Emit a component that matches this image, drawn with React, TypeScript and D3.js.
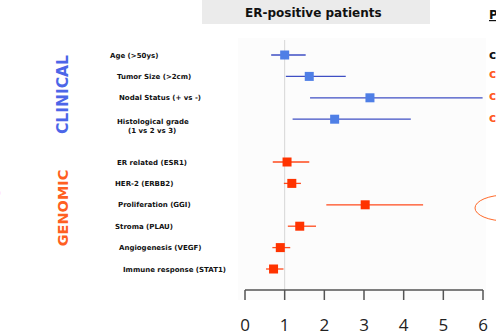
import React from 'react';
import * as d3 from 'd3';

// forest plot rows (hazard ratio with 95% CI)
const labels = [
  'Age (>50ys)',
  'Tumor Size (>2cm)',
  'Nodal Status (+ vs -)',
  'Histological grade|(1 vs 2 vs 3)',
  '',
  'ER related (ESR1)',
  'HER-2 (ERBB2)',
  'Proliferation (GGI)',
  'Stroma (PLAU)',
  'Angiogenesis (VEGF)',
  'Immune response (STAT1)',
];
const groups = ['clinical', 'clinical', 'clinical', 'clinical', '', 'genomic', 'genomic', 'genomic', 'genomic', 'genomic', 'genomic'];
const hr = [1.0, 1.62, 3.15, 2.26, null, 1.06, 1.18, 3.03, 1.38, 0.89, 0.72];
const lower = [0.66, 1.03, 1.64, 1.2, null, 0.7, 0.98, 2.05, 1.08, 0.69, 0.53];
const upper = [1.53, 2.54, 5.99, 4.18, null, 1.62, 1.41, 4.49, 1.79, 1.14, 0.97];
const ticks = [0, 1, 2, 3, 4, 5, 6];

// layout only: left edge of each label
const labelX = [110, 117, 119, 117, 0, 117, 115, 118, 115, 119, 123];

const W = 496, H = 336;
const lineCol = { clinical: '#3f4fc4', genomic: '#ff4a1c' };
const boxCol = { clinical: '#4f7fe6', genomic: '#ff3300' };
const labelFont = '"DejaVu Sans", sans-serif';

export default function App() {
  const x = d3.scaleLinear().domain([0, 6]).range([245, 483]);
  const y = d3.scaleLinear().domain([0, labels.length - 1]).range([55, 269]);
  const axisY = 290;
  const box = 9;

  return (
    <svg width={W} height={H} style={{ position: 'absolute', left: 0, top: 0, background: '#fff' }}>
      {/* panel */}
      <rect x={238} y={38} width={248} height={262} fill="#fcfcfc" />
      <line x1={x(1)} x2={x(1)} y1={40} y2={axisY} stroke="#d6d6d6" strokeWidth={1} />

      {/* title */}
      <rect x={202} y={0} width={228} height={24} fill="#ebebeb" />
      <text x={245} y={17} fontFamily={labelFont} fontWeight="bold" fontSize={12} fill="#111">
        ER-positive patients
      </text>
      <text x={489} y={19} fontFamily={labelFont} fontWeight="bold" fontSize={12} fill="#111" textDecoration="underline">
        P
      </text>
      {['#111', '#ff5a1f', '#ff5a1f', '#ff5a1f'].map((c, i) => (
        <text key={i} x={489} y={[59, 78, 100, 122][i]} fontFamily={labelFont} fontWeight="bold" fontSize={12} fill={c}>
          c
        </text>
      ))}
      <ellipse cx={506} cy={208} rx={31} ry={13} fill="none" stroke="#ff6a2a" strokeWidth={1} />

      {/* group titles */}
      <text
        transform={`translate(68,${y(1.85)}) rotate(-90)`}
        textAnchor="middle"
        fontFamily={labelFont}
        fontWeight="bold"
        fontSize={15.5}
        fill="#4c66e8"
      >
        CLINICAL
      </text>
      <text
        transform={`translate(68,${y(7.15)}) rotate(-90)`}
        textAnchor="middle"
        fontFamily={labelFont}
        fontWeight="bold"
        fontSize={14.5}
        fill="#ff5f22"
      >
        GENOMIC
      </text>
      <text x={-3} y={196} fontFamily={labelFont} fontSize={10} fill="#ff5f22">
        )
      </text>

      {/* rows */}
      {labels.map((lab, i) => {
        if (!lab) return null;
        const g = groups[i] as 'clinical' | 'genomic';
        const cy = y(i);
        const parts = lab.split('|');
        return (
          <g key={i}>
            {parts.length === 1 ? (
              <text x={labelX[i]} y={cy + 2.5} fontFamily={labelFont} fontWeight="bold" fontSize={7} fill="#111">
                {lab}
              </text>
            ) : (
              <text fontFamily={labelFont} fontWeight="bold" fontSize={7} fill="#111">
                <tspan x={labelX[i]} y={cy + 5}>{parts[0]}</tspan>
                <tspan x={labelX[i] + 11} y={cy + 14}>{parts[1]}</tspan>
              </text>
            )}
            <line
              x1={x(lower[i] as number)}
              x2={x(upper[i] as number)}
              y1={cy}
              y2={cy}
              stroke={lineCol[g]}
              strokeWidth={1.3}
            />
            <rect
              x={x(hr[i] as number) - box / 2}
              y={cy - box / 2}
              width={box}
              height={box}
              fill={boxCol[g]}
            />
          </g>
        );
      })}

      {/* axis */}
      <line x1={x(0)} x2={x(6)} y1={axisY} y2={axisY} stroke="#555" strokeWidth={1.5} />
      {ticks.map((t) => (
        <g key={t}>
          <line x1={x(t)} x2={x(t)} y1={axisY} y2={axisY + 10} stroke="#555" strokeWidth={1.5} />
          <text x={x(t)} y={331} textAnchor="middle" fontFamily='"Open Sans", sans-serif' fontSize={17} fill="#222">
            {t}
          </text>
        </g>
      ))}
    </svg>
  );
}
